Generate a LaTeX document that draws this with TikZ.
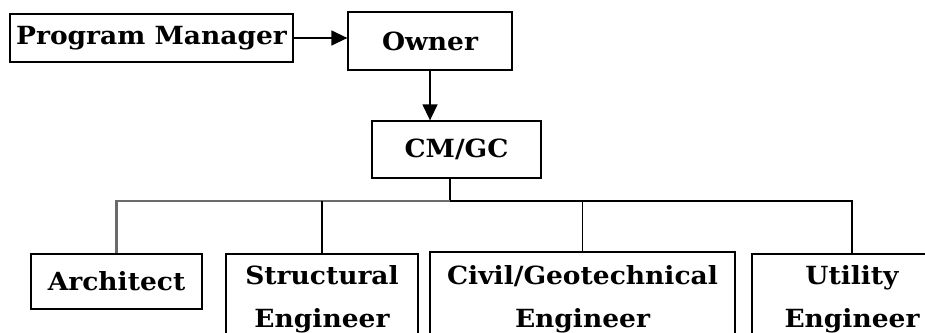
\documentclass[tikz,border=0pt]{standalone}
\usepackage{fontspec}
\newfontfamily\boxfont[FakeStretch=1.06]{DejaVu Serif Bold}
\usetikzlibrary{arrows.meta}
\begin{document}
\begin{tikzpicture}[x=1pt,y=-1pt,
  box/.style={draw, line width=1.3pt, inner sep=0pt, align=center,
    font=\boxfont\fontsize{25}{43}\selectfont},
  arr/.style={line width=1.4pt, -{Triangle[length=16pt,width=15pt]}},
  link/.style={line width=1.5pt},
  greylink/.style={line width=2.6pt, draw=black!58}]
\clip (0,0) rectangle (925,332);
\useasboundingbox (0,0) rectangle (925,332);
\node[box, minimum width=283pt, minimum height=48pt] (pm) at (151.5,38) {Program Manager};
\node[box, minimum width=164pt, minimum height=58pt] (owner) at (430,41) {Owner};
\node[box, minimum width=169pt, minimum height=57pt] (cm) at (456.5,149.5) {CM/GC};
\node[box, minimum width=171pt, minimum height=55pt] (arch) at (116.5,281.5) {Architect};
\node[box, minimum width=192pt, minimum height=90pt] (struct) at (322,299) {Structural\\Engineer};
\node[box, minimum width=305pt, minimum height=94pt] (civil) at (582.5,299) {Civil/Geotechnical\\Engineer};
\node[box, minimum width=200pt, minimum height=90pt] (util) at (852,299) {Utility\\Engineer};
\coordinate (bus) at (450,201);
\draw[arr] (pm.east) -- (pm.east -| owner.west);
\draw[arr] (owner.south) -- (owner.south |- cm.north);
\draw[link] (cm.south -| bus) -- (bus);
\draw[greylink] (bus) -- (bus -| arch.north) -- (arch.north);
\draw[link] (bus) -- (bus -| util.north) -- (util.north);
\draw[link] (bus -| struct.north) -- (struct.north);
\draw[link] (bus -| civil.north) -- (civil.north);
\end{tikzpicture}
\end{document}
